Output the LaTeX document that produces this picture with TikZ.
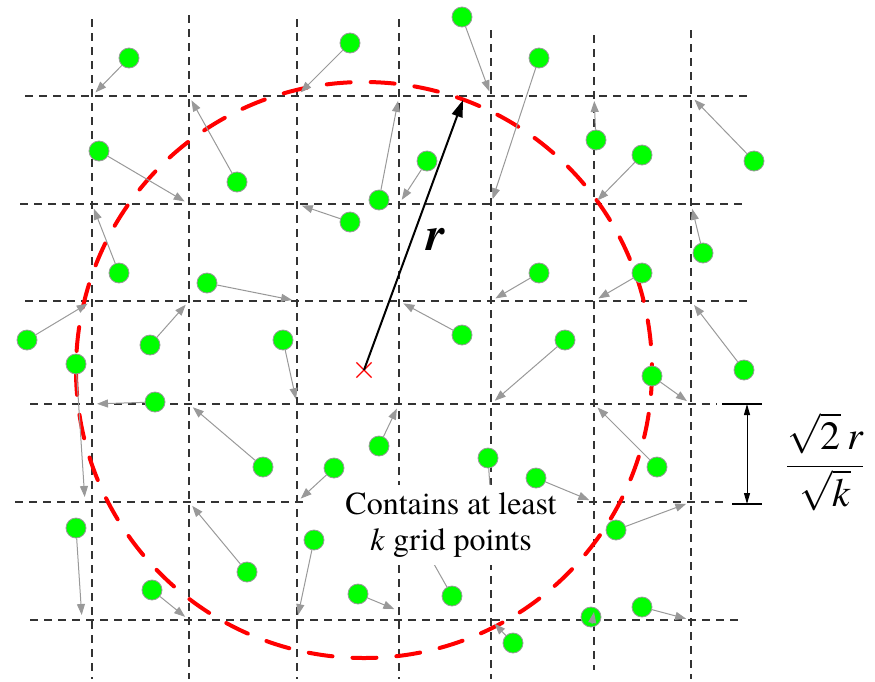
\RequirePackage{fix-cm}
\documentclass[tikz,border=0pt]{standalone}
\usepackage{amsmath}
\usepackage{fontspec}
\setmainfont{texgyretermes}[Extension=.otf, UprightFont=*-regular, ItalicFont=*-italic,
  BoldFont=*-bold, BoldItalicFont=*-bolditalic]
\usetikzlibrary{arrows.meta,shapes.misc,calc}

\begin{document}
\begin{tikzpicture}[
  x=1pt, y=-1pt,
  gridline/.style={black!80, line width=1.2pt, dash pattern=on 8pt off 6pt},
  sensor/.style={circle, fill=green, draw=black!40, line width=0.8pt, minimum size=20pt, inner sep=0pt},
  hop/.style={-{Triangle[length=11pt,width=8pt]}, black!40, line width=1pt, shorten >=5pt},
  rangecircle/.style={red, line width=4pt, dash pattern=on 24pt off 20pt, line cap=round},
  dimtick/.style={black, line width=1.3pt}
]
\useasboundingbox (0,0) rectangle (875,681);

% grid columns and rows
\coordinate (c1) at (92,0);  \coordinate (c2) at (189,0); \coordinate (c3) at (297,0);
\coordinate (c4) at (399,0); \coordinate (c5) at (491,0); \coordinate (c6) at (594,0);
\coordinate (c7) at (691,0);
\coordinate (r1) at (0,96);  \coordinate (r2) at (0,204); \coordinate (r3) at (0,301);
\coordinate (r4) at (0,404); \coordinate (r5) at (0,502); \coordinate (r6) at (0,620);

% dashed grid
\draw[gridline] (25,96) -- (752,96);
\draw[gridline] (20,204) -- (742,204);
\draw[gridline] (25,301) -- (747,301);
\draw[gridline] (30,404) -- (717,404);
\draw[gridline] (15,502) -- (727,502);
\draw[gridline] (30,620) -- (740,620);
\draw[gridline] (92,19) -- (92,679);
\draw[gridline] (189,15) -- (189,679);
\draw[gridline] (297,19) -- (297,679);
\draw[gridline] (399,19) -- (399,679);
\draw[gridline] (491,30) -- (491,679);
\draw[gridline] (594,35) -- (594,670);
\draw[gridline] (691,30) -- (691,679);

% circle of radius r
\node[cross out, draw=red, line width=1.2pt, minimum size=14pt, inner sep=0pt] (ctr) at (364,370) {};
\draw[rangecircle] (ctr.center) circle[radius=288];

% the two sensors whose hops run under the label
\node[sensor] (d30) at (488,458) {};
\node[sensor] (d39) at (452,596) {};
\draw[hop] (d30) -- (c5 |- r5);
\draw[hop] (d39) -- (c4 |- r5);

% white patch behind the label
\node[fill=white, minimum width=270pt, minimum height=80pt, inner sep=0pt] (notebg) at (442,525) {};

% sensor nodes
\node[sensor] (d1) at (129,58) {};
\node[sensor] (d2) at (350,43) {};
\node[sensor] (d3) at (462,17) {};
\node[sensor] (d4) at (539,58) {};
\node[sensor] (d5) at (99,151) {};
\node[sensor] (d6) at (237,182) {};
\node[sensor] (d7) at (379,200) {};
\node[sensor] (d8) at (427,161) {};
\node[sensor] (d9) at (350,222) {};
\node[sensor] (d10) at (596,140) {};
\node[sensor] (d11) at (642,155) {};
\node[sensor] (d12) at (754,161) {};
\node[sensor] (d13) at (119,273) {};
\node[sensor] (d14) at (207,283) {};
\node[sensor] (d15) at (539,273) {};
\node[sensor] (d16) at (642,273) {};
\node[sensor] (d17) at (703,253) {};
\node[sensor] (d18) at (27,340) {};
\node[sensor] (d19) at (76,364) {};
\node[sensor] (d20) at (150,345) {};
\node[sensor] (d21) at (283,340) {};
\node[sensor] (d22) at (462,335) {};
\node[sensor] (d23) at (565,340) {};
\node[sensor] (d24) at (652,376) {};
\node[sensor] (d25) at (744,370) {};
\node[sensor] (d26) at (155,402) {};
\node[sensor] (d27) at (263,467) {};
\node[sensor] (d28) at (334,468) {};
\node[sensor] (d29) at (379,446) {};
\node[sensor] (d31) at (536,478) {};
\node[sensor] (d32) at (657,467) {};
\node[sensor] (d33) at (76,528) {};
\node[sensor] (d34) at (314,540) {};
\node[sensor] (d35) at (247,572) {};
\node[sensor] (d36) at (616,530) {};
\node[sensor] (d37) at (152,590) {};
\node[sensor] (d38) at (358,594) {};
\node[sensor] (d40) at (513,643) {};
\node[sensor] (d41) at (591,617) {};
\node[sensor] (d42) at (642,607) {};

% hops to grid points
\draw[hop] (d1) -- (c1 |- r1);
\draw[hop] (d2) -- (c3 |- r1);
\draw[hop] (d3) -- (c5 |- r1);
\draw[hop] (d4) -- (c5 |- r2);
\draw[hop] (d5) -- (c2 |- r2);
\draw[hop] (d6) -- (c2 |- r1);
\draw[hop] (d7) -- (c4 |- r1);
\draw[hop] (d8) -- (c4 |- r2);
\draw[hop] (d9) -- (c3 |- r2);
\draw[hop] (d10) -- (c6 |- r1);
\draw[hop] (d11) -- (c6 |- r2);
\draw[hop] (d12) -- (c7 |- r1);
\draw[hop] (d13) -- (c1 |- r2);
\draw[hop] (d14) -- (c3 |- r3);
\draw[hop] (d15) -- (c5 |- r3);
\draw[hop] (d16) -- (c6 |- r3);
\draw[hop] (d17) -- (c7 |- r2);
\draw[hop] (d18) -- (c1 |- r3);
\draw[hop] (d19) -- ($(c1 |- r5)+(-7,0)$);
\draw[hop] (d20) -- (c2 |- r3);
\draw[hop] (d21) -- (c3 |- r4);
\draw[hop] (d22) -- (c4 |- r3);
\draw[hop] (d23) -- (c5 |- r4);
\draw[hop] (d24) -- (c7 |- r4);
\draw[hop] (d25) -- (c7 |- r3);
\draw[hop] (d26) -- (c1 |- r4);
\draw[hop] (d27) -- (c2 |- r4);
\draw[hop] (d28) -- (c3 |- r5);
\draw[hop] (d29) -- (c4 |- r4);
\draw[hop] (d31) -- (c6 |- r5);
\draw[hop] (d32) -- (c6 |- r4);
\draw[hop] (d33) -- ($(c1 |- r6)+(-10,0)$);
\draw[hop] (d34) -- (c3 |- r6);
\draw[hop] (d35) -- (c2 |- r5);
\draw[hop] (d36) -- (c7 |- r5);
\draw[hop] (d37) -- (c2 |- r6);
\draw[hop] (d38) -- ($(c4 |- r6)+(0,-9)$);
\draw[hop] (d40) -- (c5 |- r6);
\draw[hop, shorten >=0pt] ($(d41)+(1,7)$) -- ($(d41)+(3,-5)$);
\draw[hop] (d42) -- (c7 |- r6);

% label in the middle
\node[align=center, inner sep=0pt, font=\fontsize{32}{36}\selectfont] (note) at (451,525)
  {Contains at least\\\textit{k} grid points};

% radius
\coordinate (rtip) at (463,100);
\draw[-{Triangle[length=17pt,width=11pt]}, line width=2pt] (ctr.center) -- (rtip);
\node[font=\fontsize{48}{52}\selectfont\bfseries\itshape] (rlab) at (436,239) {r};

% cell size
\coordinate (dimA) at (747,404);
\coordinate (dimB) at (747,504);
\draw[dimtick] (722,404) -- (762,404);
\draw[dimtick] (732,504) -- (762,504);
\draw[{Triangle[length=11pt,width=6pt]}-{Triangle[length=11pt,width=6pt]}, line width=1pt] (dimA) -- (dimB);
\node[font=\fontsize{40}{48}\selectfont] (cell) at (825,462)
  {$\dfrac{\sqrt{\textup{2}}\,\textit{r}}{\sqrt{\textit{k}}}$};

\end{tikzpicture}
\end{document}
